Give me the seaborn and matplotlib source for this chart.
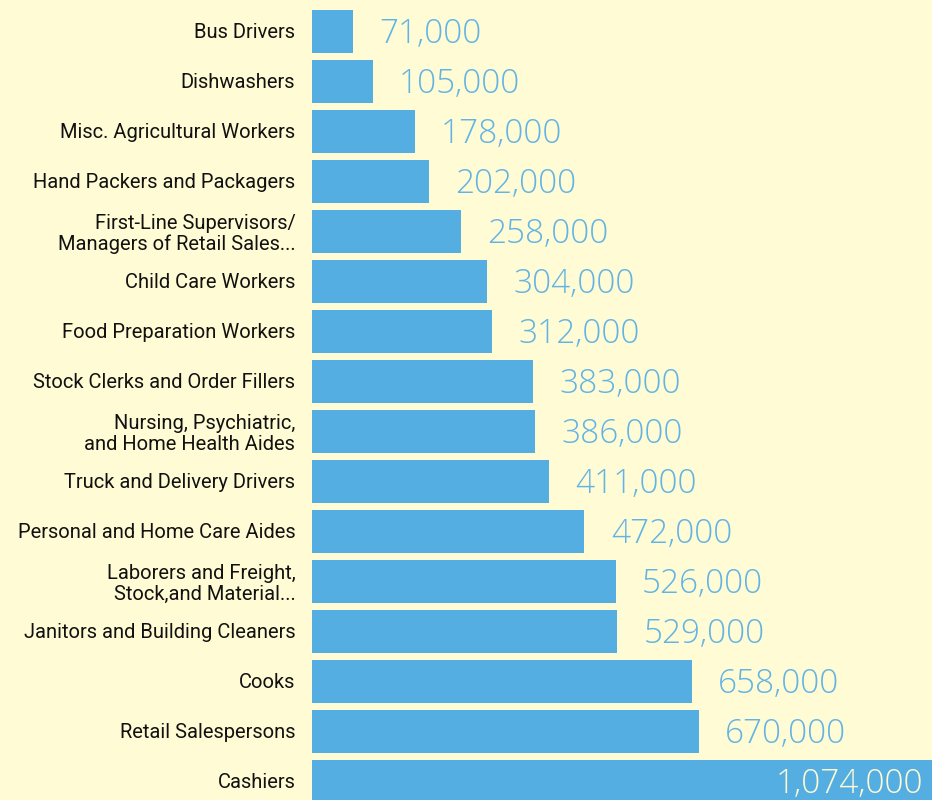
import matplotlib
matplotlib.use('Agg')
import matplotlib.pyplot as plt
import seaborn as sns
import pandas as pd

# datos
ocupaciones = [
    'Bus Drivers',
    'Dishwashers',
    'Misc. Agricultural Workers',
    'Hand Packers and Packagers',
    'First-Line Supervisors/\nManagers of Retail Sales...',
    'Child Care Workers',
    'Food Preparation Workers',
    'Stock Clerks and Order Fillers',
    'Nursing, Psychiatric,\nand Home Health Aides',
    'Truck and Delivery Drivers',
    'Personal and Home Care Aides',
    'Laborers and Freight,\nStock,and Material...',
    'Janitors and Building Cleaners',
    'Cooks',
    'Retail Salespersons',
    'Cashiers',
]
trabajadores = [71000, 105000, 178000, 202000, 258000, 304000, 312000, 383000,
                386000, 411000, 472000, 526000, 529000, 658000, 670000, 1074000]

fondo = '#FFFBD4'
azul = '#55AEE1'
azul_txt = '#62B4E5'

df = pd.DataFrame({'ocupacion': ocupaciones, 'trabajadores': trabajadores})

sns.set_style('white')
plt.rcParams['font.family'] = ['Roboto', 'DejaVu Sans']

fig = plt.figure(figsize=(9.32, 8), dpi=100, facecolor=fondo)
ax = fig.add_axes([312 / 932, 0, 620 / 932, 1])
ax.set_facecolor(fondo)

sns.barplot(data=df, x='trabajadores', y='ocupacion', color=azul, saturation=1,
            width=0.86, orient='h', linewidth=0, ax=ax)

ax.set_xlim(0, max(trabajadores))
ax.set_ylim(15.38, -0.62)

fuente_num = ['Open Sans', 'DejaVu Sans']
for i, v in enumerate(trabajadores):
    txt = f'{v:,}'
    if v == max(trabajadores):
        ax.annotate(txt, (v, i), xytext=(-6, -2.5), textcoords='offset points',
                    ha='right', va='center', fontsize=24, color=fondo,
                    family=fuente_num, fontweight='light')
    else:
        ax.annotate(txt, (v, i), xytext=(19, -2.5), textcoords='offset points',
                    ha='left', va='center', fontsize=24, color=azul_txt,
                    family=fuente_num, fontweight='light')

ax.set_xlabel('')
ax.set_ylabel('')
ax.set_xticks([])
ax.tick_params(axis='y', length=0, pad=12, labelsize=14.5, labelcolor='#111111')
for lbl in ax.get_yticklabels():
    lbl.set_linespacing(1.1)
sns.despine(ax=ax, left=True, bottom=True)

fig.savefig('out.png', dpi=100, facecolor=fondo)
